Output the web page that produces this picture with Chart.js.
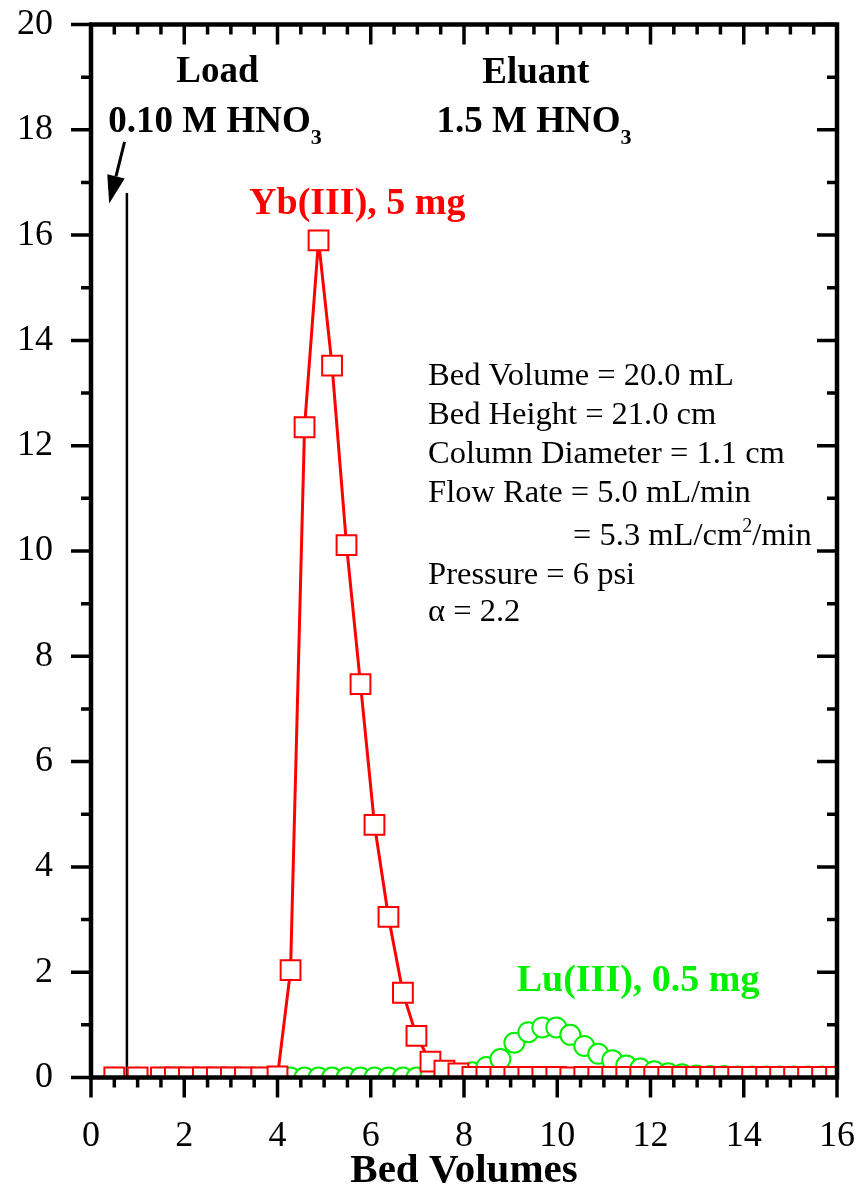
<!DOCTYPE html>
<html>
<head>
<meta charset="utf-8">
<script src="https://cdn.jsdelivr.net/npm/chart.js"></script>
<style>
  html, body { margin: 0; padding: 0; background: #fff; }
</style>
</head>
<body>
<canvas id="elutionChart" width="859" height="1196"></canvas>
<script>
// Bed volumes at which fractions were sampled
const bedVolumes = [0.5, 1.0, 1.5, 1.8, 2.1, 2.4, 2.7, 3.0, 3.3, 3.65, 4.0,
  4.28, 4.58, 4.88, 5.17, 5.48, 5.78, 6.08, 6.38, 6.69, 6.98, 7.28, 7.58, 7.88,
  8.18, 8.48, 8.78, 9.08, 9.38, 9.68, 9.98, 10.28, 10.58, 10.88, 11.18, 11.48,
  11.78, 12.08, 12.38, 12.68, 12.98, 13.28, 13.58, 13.88, 14.18, 14.48, 14.78,
  15.08, 15.38, 15.68, 15.98];

// Yb(III), 5 mg
const ybValues = [0, 0, 0, 0, 0, 0, 0, 0, 0, 0, 0.02,
  2.04, 12.35, 15.9, 13.52, 10.11, 7.47, 4.8, 3.05, 1.61, 0.79, 0.3, 0.13, 0.08,
  0.01, 0.01, 0.01, 0.01, 0.01, 0.01, 0.01, 0.0, 0.01, 0.01, 0.01, 0.01,
  0.01, 0.01, 0.01, 0.01, 0.01, 0.01, 0.01, 0.01, 0.01, 0.01, 0.01,
  0.01, 0.01, 0.01, 0.01];

// Lu(III), 0.5 mg
const luValues = [0, 0, 0, 0, 0, 0, 0, 0, 0, 0, 0,
  0, 0, 0, 0, 0, 0, 0, 0, 0, 0, 0.02, 0.03, 0.05,
  0.1, 0.2, 0.35, 0.66, 0.86, 0.95, 0.95, 0.81, 0.6, 0.45, 0.33, 0.23,
  0.17, 0.12, 0.08, 0.06, 0.04, 0.03, 0.03, 0.02, 0.02, 0.02, 0.02,
  0.02, 0.02, 0.02, 0.02];

// load / eluant switch marker
const loadLineX = [0.77, 0.77];
const loadLineY = [0, 16.8];

const xRange = [0, 16];
const yRange = [0, 20];

const serif = "'Liberation Serif', 'Times New Roman', serif";
const green = '#00f000';

function toPoints(xs, ys) {
  return xs.map((v, i) => ({ x: v, y: ys[i] }));
}

// frame + ticks (ticks all point down / left like the original plot)
const frameTicks = {
  id: 'frameTicks',
  afterDatasetsDraw(chart) {
    const { ctx, chartArea: a, scales: { x, y } } = chart;
    ctx.save();
    ctx.strokeStyle = '#000';
    ctx.lineWidth = 3.5;
    ctx.beginPath();
    for (let v = xRange[0]; v <= xRange[1] + 1e-6; v += 0.5) {
      const px = x.getPixelForValue(v);
      const len = (Math.round(v * 2) % 4 === 0) ? 20 : 10;
      ctx.moveTo(px, a.bottom); ctx.lineTo(px, a.bottom + len);
      ctx.moveTo(px, a.top); ctx.lineTo(px, a.top + len);
    }
    for (let v = yRange[0]; v <= yRange[1]; v += 1) {
      const py = y.getPixelForValue(v);
      const len = (v % 2 === 0) ? 20 : 10;
      ctx.moveTo(a.left, py); ctx.lineTo(a.left - len, py);
      ctx.moveTo(a.right, py); ctx.lineTo(a.right - len, py);
    }
    ctx.stroke();
    ctx.lineWidth = 4.5;
    ctx.strokeRect(a.left, a.top, a.right - a.left, a.bottom - a.top);
    ctx.restore();
  }
};

function textWithSub(ctx, parts, x, y) {
  // parts: [text, font, dy]
  let cx = x;
  parts.forEach(p => {
    ctx.font = p[1];
    ctx.fillText(p[0], cx, y + (p[2] || 0));
    cx += ctx.measureText(p[0]).width;
  });
  return cx;
}

const annotations = {
  id: 'annotations',
  afterDraw(chart) {
    const { ctx, scales: { x, y } } = chart;
    const X = v => x.getPixelForValue(v);
    const Y = v => y.getPixelForValue(v);
    ctx.save();
    ctx.textBaseline = 'alphabetic';
    ctx.textAlign = 'left';

    const bold = 'bold 37px ' + serif;
    const subB = 'bold 22px ' + serif;

    // arrow to the load marker
    ctx.strokeStyle = '#000';
    ctx.fillStyle = '#000';
    ctx.lineWidth = 3;
    const x0 = X(0.72), y0 = Y(17.77), x1 = X(0.39), y1 = Y(16.6);
    const ang = Math.atan2(y1 - y0, x1 - x0);
    const hl = 28, hw = 9;
    const bx = x1 - hl * Math.cos(ang), by = y1 - hl * Math.sin(ang);
    ctx.beginPath(); ctx.moveTo(x0, y0); ctx.lineTo(bx, by); ctx.stroke();
    ctx.beginPath();
    ctx.moveTo(x1, y1);
    ctx.lineTo(bx + hw * Math.sin(ang), by - hw * Math.cos(ang));
    ctx.lineTo(bx - hw * Math.sin(ang), by + hw * Math.cos(ang));
    ctx.closePath(); ctx.fill();

    // Load / Eluant headings
    ctx.textAlign = 'center';
    ctx.font = bold;
    ctx.fillText('Load', X(2.71), Y(18.9));
    ctx.fillText('Eluant', X(9.54), Y(18.88));
    ctx.textAlign = 'left';
    textWithSub(ctx, [['0.10 M HNO', bold], ['3', subB, 12]], X(0.37), Y(17.95));
    textWithSub(ctx, [['1.5 M HNO', bold], ['3', subB, 12]], X(7.41), Y(17.95));

    // series labels
    ctx.font = 'bold 38px ' + serif;
    ctx.fillStyle = '#ff0000';
    ctx.fillText('Yb(III), 5 mg', X(3.39), Y(16.4));
    ctx.fillStyle = green;
    ctx.fillText('Lu(III), 0.5 mg', X(9.13), Y(1.65));

    // column conditions
    ctx.fillStyle = '#000';
    const reg = '32.5px ' + serif;
    const sup = '20px ' + serif;
    ctx.font = reg;
    const lx = X(7.23);
    ctx.fillText('Bed Volume = 20.0 mL', lx, Y(13.15));
    ctx.fillText('Bed Height = 21.0 cm', lx, Y(12.41));
    ctx.fillText('Column Diameter = 1.1 cm', lx, Y(11.67));
    ctx.fillText('Flow Rate = 5.0 mL/min', lx, Y(10.93));
    textWithSub(ctx, [['= 5.3 mL/cm', reg], ['2', sup, -13], ['/min', reg]], X(10.34), Y(10.11));
    ctx.font = reg;
    ctx.fillText('Pressure = 6 psi', lx, Y(9.37));
    ctx.fillText('\u03b1 = 2.2', lx, Y(8.67));
    ctx.restore();
  }
};

new Chart(document.getElementById('elutionChart').getContext('2d'), {
  type: 'line',
  data: {
    datasets: [
      {
        label: 'Yb(III), 5 mg',
        data: toPoints(bedVolumes, ybValues),
        borderColor: '#ff0000',
        borderWidth: 3,
        pointStyle: 'rect',
        pointRadius: 14,
        pointBorderWidth: 2,
        pointBorderColor: '#ff0000',
        pointBackgroundColor: '#ffffff',
        tension: 0,
        clip: 0,
        order: 0
      },
      {
        label: 'Lu(III), 0.5 mg',
        data: toPoints(bedVolumes, luValues),
        borderColor: green,
        borderWidth: 2,
        pointStyle: 'circle',
        pointRadius: 10,
        pointBorderWidth: 2,
        pointBorderColor: green,
        pointBackgroundColor: '#ffffff',
        tension: 0,
        clip: 0,
        order: 1
      },
      {
        label: 'load',
        data: toPoints(loadLineX, loadLineY),
        borderColor: '#000000',
        borderWidth: 2.5,
        pointRadius: 0,
        clip: 0,
        order: 2
      }
    ]
  },
  options: {
    responsive: false,
    animation: false,
    layout: { padding: { top: 24.5, right: 22, left: 0, bottom: 0 } },
    plugins: { legend: { display: false }, tooltip: { enabled: false } },
    scales: {
      x: {
        type: 'linear',
        min: xRange[0],
        max: xRange[1],
        grid: { display: false, drawTicks: false },
        border: { display: false },
        ticks: { stepSize: 2, padding: 37, color: '#000', font: { family: serif, size: 36 } },
        title: { display: true, text: 'Bed Volumes', color: '#000', padding: { top: 0, bottom: 0 },
                 font: { family: serif, size: 41, weight: 'bold' } },
        afterFit(scale) {
          scale.height = 118.5;
          scale.paddingLeft = 0; scale.paddingRight = 0;
        }
      },
      y: {
        min: yRange[0],
        max: yRange[1],
        grid: { display: false, drawTicks: false },
        border: { display: false },
        ticks: { stepSize: 2, padding: 38, color: '#000', font: { family: serif, size: 36 } },
        afterFit(scale) {
          scale.width = 91;
          scale.paddingTop = 0; scale.paddingBottom = 0;
        }
      }
    }
  },
  plugins: [frameTicks, annotations]
});
</script>
</body>
</html>
